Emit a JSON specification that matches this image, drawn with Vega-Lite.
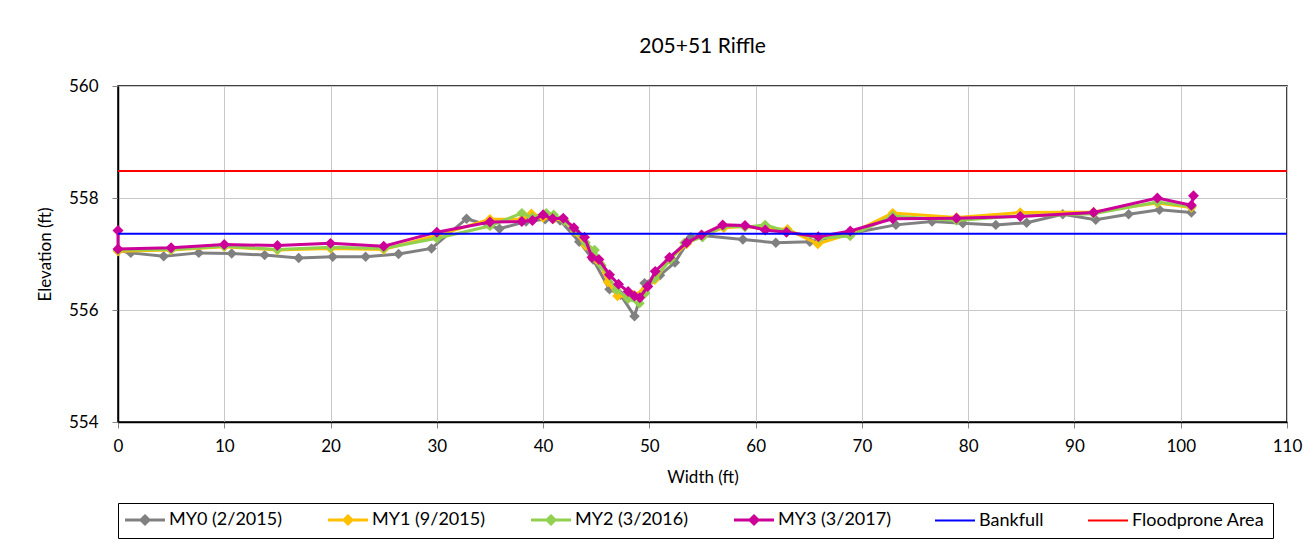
{
  "$schema": "https://vega.github.io/schema/vega-lite/v6.json",
  "width": 1169,
  "height": 336,
  "autosize": "none",
  "padding": {"left": 118, "top": 86, "right": 21, "bottom": 135},
  "background": "white",
  "title": {"text": "205+51 Riffle", "font": "Lato", "fontSize": 21, "fontWeight": "normal", "color": "black", "anchor": "middle", "offset": 20},
  "config": {
    "view": {"stroke": "black", "strokeWidth": 1.5},
    "axis": {
      "labelFont": "Lato", "labelFontSize": 17, "labelColor": "black", "labelFlush": false,
      "titleFont": "Lato", "titleFontSize": 17, "titleFontWeight": "normal", "titleColor": "black",
      "domainColor": "black", "domainWidth": 1.5,
      "tickColor": "#888888", "tickSize": 6,
      "gridColor": "#c8c8c8", "gridWidth": 1
    }
  },
  "datasets": {
    "profile": [
      {"s": "MY0 (2/2015)", "x": 0, "y": 557.06},
      {"s": "MY0 (2/2015)", "x": 1.2, "y": 557.02},
      {"s": "MY0 (2/2015)", "x": 4.3, "y": 556.96},
      {"s": "MY0 (2/2015)", "x": 7.6, "y": 557.02},
      {"s": "MY0 (2/2015)", "x": 10.7, "y": 557.01},
      {"s": "MY0 (2/2015)", "x": 13.8, "y": 556.98},
      {"s": "MY0 (2/2015)", "x": 17.0, "y": 556.93},
      {"s": "MY0 (2/2015)", "x": 20.2, "y": 556.95},
      {"s": "MY0 (2/2015)", "x": 23.3, "y": 556.95},
      {"s": "MY0 (2/2015)", "x": 26.4, "y": 557.0},
      {"s": "MY0 (2/2015)", "x": 29.5, "y": 557.1},
      {"s": "MY0 (2/2015)", "x": 32.8, "y": 557.63},
      {"s": "MY0 (2/2015)", "x": 35.9, "y": 557.45},
      {"s": "MY0 (2/2015)", "x": 38.4, "y": 557.58},
      {"s": "MY0 (2/2015)", "x": 40.2, "y": 557.62},
      {"s": "MY0 (2/2015)", "x": 41.6, "y": 557.6},
      {"s": "MY0 (2/2015)", "x": 43.4, "y": 557.22},
      {"s": "MY0 (2/2015)", "x": 44.7, "y": 556.9},
      {"s": "MY0 (2/2015)", "x": 46.25, "y": 556.37},
      {"s": "MY0 (2/2015)", "x": 47.3, "y": 556.27},
      {"s": "MY0 (2/2015)", "x": 48.6, "y": 555.89},
      {"s": "MY0 (2/2015)", "x": 49.55, "y": 556.48},
      {"s": "MY0 (2/2015)", "x": 51.0, "y": 556.62},
      {"s": "MY0 (2/2015)", "x": 52.4, "y": 556.85},
      {"s": "MY0 (2/2015)", "x": 53.9, "y": 557.3},
      {"s": "MY0 (2/2015)", "x": 55.0, "y": 557.33},
      {"s": "MY0 (2/2015)", "x": 58.8, "y": 557.26},
      {"s": "MY0 (2/2015)", "x": 61.9, "y": 557.2},
      {"s": "MY0 (2/2015)", "x": 65.1, "y": 557.22},
      {"s": "MY0 (2/2015)", "x": 69.0, "y": 557.37},
      {"s": "MY0 (2/2015)", "x": 73.2, "y": 557.52},
      {"s": "MY0 (2/2015)", "x": 76.6, "y": 557.58},
      {"s": "MY0 (2/2015)", "x": 79.5, "y": 557.55},
      {"s": "MY0 (2/2015)", "x": 82.6, "y": 557.52},
      {"s": "MY0 (2/2015)", "x": 85.5, "y": 557.56},
      {"s": "MY0 (2/2015)", "x": 88.9, "y": 557.71},
      {"s": "MY0 (2/2015)", "x": 92.0, "y": 557.61},
      {"s": "MY0 (2/2015)", "x": 95.1, "y": 557.71},
      {"s": "MY0 (2/2015)", "x": 98.0, "y": 557.79},
      {"s": "MY0 (2/2015)", "x": 101.0, "y": 557.74},

      {"s": "MY1 (9/2015)", "x": 0, "y": 557.05},
      {"s": "MY1 (9/2015)", "x": 5.0, "y": 557.07},
      {"s": "MY1 (9/2015)", "x": 10.0, "y": 557.13},
      {"s": "MY1 (9/2015)", "x": 15.0, "y": 557.07},
      {"s": "MY1 (9/2015)", "x": 20.0, "y": 557.1},
      {"s": "MY1 (9/2015)", "x": 25.0, "y": 557.08},
      {"s": "MY1 (9/2015)", "x": 30.0, "y": 557.33},
      {"s": "MY1 (9/2015)", "x": 35.0, "y": 557.62},
      {"s": "MY1 (9/2015)", "x": 38.0, "y": 557.62},
      {"s": "MY1 (9/2015)", "x": 38.9, "y": 557.72},
      {"s": "MY1 (9/2015)", "x": 40.0, "y": 557.65},
      {"s": "MY1 (9/2015)", "x": 41.0, "y": 557.63},
      {"s": "MY1 (9/2015)", "x": 42.0, "y": 557.6},
      {"s": "MY1 (9/2015)", "x": 43.0, "y": 557.4},
      {"s": "MY1 (9/2015)", "x": 44.0, "y": 557.15},
      {"s": "MY1 (9/2015)", "x": 44.8, "y": 556.95},
      {"s": "MY1 (9/2015)", "x": 45.3, "y": 556.85},
      {"s": "MY1 (9/2015)", "x": 46.1, "y": 556.5},
      {"s": "MY1 (9/2015)", "x": 47.0, "y": 556.25},
      {"s": "MY1 (9/2015)", "x": 48.0, "y": 556.24},
      {"s": "MY1 (9/2015)", "x": 48.5, "y": 556.27},
      {"s": "MY1 (9/2015)", "x": 49.5, "y": 556.35},
      {"s": "MY1 (9/2015)", "x": 50.5, "y": 556.54},
      {"s": "MY1 (9/2015)", "x": 51.9, "y": 556.9},
      {"s": "MY1 (9/2015)", "x": 53.5, "y": 557.18},
      {"s": "MY1 (9/2015)", "x": 55.0, "y": 557.33},
      {"s": "MY1 (9/2015)", "x": 57.0, "y": 557.47},
      {"s": "MY1 (9/2015)", "x": 59.0, "y": 557.49},
      {"s": "MY1 (9/2015)", "x": 61.0, "y": 557.45},
      {"s": "MY1 (9/2015)", "x": 63.0, "y": 557.44},
      {"s": "MY1 (9/2015)", "x": 65.85, "y": 557.18},
      {"s": "MY1 (9/2015)", "x": 69.0, "y": 557.37},
      {"s": "MY1 (9/2015)", "x": 72.9, "y": 557.73},
      {"s": "MY1 (9/2015)", "x": 78.9, "y": 557.65},
      {"s": "MY1 (9/2015)", "x": 84.9, "y": 557.74},
      {"s": "MY1 (9/2015)", "x": 91.8, "y": 557.75},
      {"s": "MY1 (9/2015)", "x": 97.8, "y": 557.91},
      {"s": "MY1 (9/2015)", "x": 101.0, "y": 557.83},

      {"s": "MY2 (3/2016)", "x": 0, "y": 557.07},
      {"s": "MY2 (3/2016)", "x": 5.0, "y": 557.08},
      {"s": "MY2 (3/2016)", "x": 10.0, "y": 557.14},
      {"s": "MY2 (3/2016)", "x": 15.0, "y": 557.08},
      {"s": "MY2 (3/2016)", "x": 20.0, "y": 557.12},
      {"s": "MY2 (3/2016)", "x": 25.0, "y": 557.1},
      {"s": "MY2 (3/2016)", "x": 30.0, "y": 557.28},
      {"s": "MY2 (3/2016)", "x": 35.0, "y": 557.5},
      {"s": "MY2 (3/2016)", "x": 38.0, "y": 557.73},
      {"s": "MY2 (3/2016)", "x": 39.0, "y": 557.65},
      {"s": "MY2 (3/2016)", "x": 40.3, "y": 557.73},
      {"s": "MY2 (3/2016)", "x": 41.0, "y": 557.7},
      {"s": "MY2 (3/2016)", "x": 42.0, "y": 557.6},
      {"s": "MY2 (3/2016)", "x": 43.0, "y": 557.42},
      {"s": "MY2 (3/2016)", "x": 44.0, "y": 557.2},
      {"s": "MY2 (3/2016)", "x": 44.85, "y": 557.07},
      {"s": "MY2 (3/2016)", "x": 45.5, "y": 556.8},
      {"s": "MY2 (3/2016)", "x": 46.9, "y": 556.36},
      {"s": "MY2 (3/2016)", "x": 48.0, "y": 556.2},
      {"s": "MY2 (3/2016)", "x": 49.07, "y": 556.12},
      {"s": "MY2 (3/2016)", "x": 49.6, "y": 556.3},
      {"s": "MY2 (3/2016)", "x": 50.5, "y": 556.57},
      {"s": "MY2 (3/2016)", "x": 52.0, "y": 556.9},
      {"s": "MY2 (3/2016)", "x": 53.3, "y": 557.2},
      {"s": "MY2 (3/2016)", "x": 55.0, "y": 557.3},
      {"s": "MY2 (3/2016)", "x": 57.0, "y": 557.5},
      {"s": "MY2 (3/2016)", "x": 59.0, "y": 557.48},
      {"s": "MY2 (3/2016)", "x": 60.9, "y": 557.52},
      {"s": "MY2 (3/2016)", "x": 63.0, "y": 557.4},
      {"s": "MY2 (3/2016)", "x": 66.0, "y": 557.28},
      {"s": "MY2 (3/2016)", "x": 68.9, "y": 557.32},
      {"s": "MY2 (3/2016)", "x": 72.9, "y": 557.68},
      {"s": "MY2 (3/2016)", "x": 78.9, "y": 557.6},
      {"s": "MY2 (3/2016)", "x": 84.9, "y": 557.68},
      {"s": "MY2 (3/2016)", "x": 91.8, "y": 557.72},
      {"s": "MY2 (3/2016)", "x": 97.8, "y": 557.93},
      {"s": "MY2 (3/2016)", "x": 101.0, "y": 557.85},

      {"s": "MY3 (3/2017)", "x": 0, "y": 557.42},
      {"s": "MY3 (3/2017)", "x": 0, "y": 557.09},
      {"s": "MY3 (3/2017)", "x": 5.0, "y": 557.11},
      {"s": "MY3 (3/2017)", "x": 10.0, "y": 557.17},
      {"s": "MY3 (3/2017)", "x": 15.0, "y": 557.15},
      {"s": "MY3 (3/2017)", "x": 20.0, "y": 557.19},
      {"s": "MY3 (3/2017)", "x": 25.0, "y": 557.14},
      {"s": "MY3 (3/2017)", "x": 30.0, "y": 557.39},
      {"s": "MY3 (3/2017)", "x": 35.0, "y": 557.57},
      {"s": "MY3 (3/2017)", "x": 38.0, "y": 557.58},
      {"s": "MY3 (3/2017)", "x": 39.0, "y": 557.6},
      {"s": "MY3 (3/2017)", "x": 40.0, "y": 557.7},
      {"s": "MY3 (3/2017)", "x": 40.9, "y": 557.63},
      {"s": "MY3 (3/2017)", "x": 41.9, "y": 557.64},
      {"s": "MY3 (3/2017)", "x": 42.9, "y": 557.47},
      {"s": "MY3 (3/2017)", "x": 43.9, "y": 557.3},
      {"s": "MY3 (3/2017)", "x": 44.6, "y": 556.94},
      {"s": "MY3 (3/2017)", "x": 45.25, "y": 556.9},
      {"s": "MY3 (3/2017)", "x": 46.25, "y": 556.63},
      {"s": "MY3 (3/2017)", "x": 47.1, "y": 556.46},
      {"s": "MY3 (3/2017)", "x": 48.0, "y": 556.33},
      {"s": "MY3 (3/2017)", "x": 48.6, "y": 556.25},
      {"s": "MY3 (3/2017)", "x": 49.1, "y": 556.22},
      {"s": "MY3 (3/2017)", "x": 49.85, "y": 556.42},
      {"s": "MY3 (3/2017)", "x": 50.55, "y": 556.69},
      {"s": "MY3 (3/2017)", "x": 51.9, "y": 556.94},
      {"s": "MY3 (3/2017)", "x": 53.5, "y": 557.2},
      {"s": "MY3 (3/2017)", "x": 54.9, "y": 557.34},
      {"s": "MY3 (3/2017)", "x": 56.9, "y": 557.52},
      {"s": "MY3 (3/2017)", "x": 59.0, "y": 557.51},
      {"s": "MY3 (3/2017)", "x": 60.9, "y": 557.43},
      {"s": "MY3 (3/2017)", "x": 62.9, "y": 557.39},
      {"s": "MY3 (3/2017)", "x": 65.9, "y": 557.31},
      {"s": "MY3 (3/2017)", "x": 68.9, "y": 557.41},
      {"s": "MY3 (3/2017)", "x": 72.9, "y": 557.63},
      {"s": "MY3 (3/2017)", "x": 78.9, "y": 557.64},
      {"s": "MY3 (3/2017)", "x": 84.9, "y": 557.67},
      {"s": "MY3 (3/2017)", "x": 91.8, "y": 557.74},
      {"s": "MY3 (3/2017)", "x": 97.8, "y": 558.0},
      {"s": "MY3 (3/2017)", "x": 101.0, "y": 557.87},
      {"s": "MY3 (3/2017)", "x": 101.2, "y": 558.04}
    ],
    "levels": [
      {"s": "Bankfull", "y": 557.36},
      {"s": "Floodprone Area", "y": 558.48}
    ]
  },
  "layer": [
    {
      "data": {"name": "profile"},
      "transform": [{"filter": "datum.s === 'MY0 (2/2015)'"}],
      "mark": {"type": "line", "strokeWidth": 3, "point": {"shape": "diamond", "size": 110, "filled": true, "opacity": 1}},
      "encoding": {
        "x": {"field": "x", "type": "quantitative", "scale": {"domain": [0, 110], "nice": false, "zero": false},
              "axis": {"title": "Width (ft)", "values": [0,10,20,30,40,50,60,70,80,90,100,110], "format": "d", "labelPadding": 10, "titlePadding": 15}},
        "y": {"field": "y", "type": "quantitative", "scale": {"domain": [554, 560], "nice": false, "zero": false},
              "axis": {"title": "Elevation (ft)", "values": [554,556,558,560], "format": "d", "labelPadding": 14, "titlePadding": 14}},
        "order": {"value": null},
        "color": {
          "field": "s", "type": "nominal",
          "scale": {
            "domain": ["MY0 (2/2015)", "MY1 (9/2015)", "MY2 (3/2016)", "MY3 (3/2017)", "Bankfull", "Floodprone Area"],
            "range": ["#808080", "#FFC000", "#92D050", "#CC0099", "#0000FF", "#FF0000"]
          },
          "legend": {
            "title": null,
            "orient": "none", "legendX": 0, "legendY": 417,
            "direction": "horizontal", "columns": 6,
            "padding": 8, "strokeColor": "black",
            "columnPadding": 40,
            "symbolSize": 400, "symbolOffset": 10, "labelOffset": 15,
            "symbolType": "M-2,0H2",
            "labelFont": "Lato", "labelFontSize": 18, "labelColor": "black", "labelLimit": 400,
            "encode": {
              "symbols": {
                "update": {
                  "shape": {"signal": "indexof(['Bankfull','Floodprone Area'], datum.value) >= 0 ? 'M-2,0H2' : 'M-2,0H2M0,-0.4L0.4,0L0,0.4L-0.4,0Z'"},
                  "fill": {"scale": "color", "field": "value"},
                  "stroke": {"scale": "color", "field": "value"},
                  "strokeWidth": {"signal": "indexof(['Bankfull','Floodprone Area'], datum.value) >= 0 ? 2 : 3"},
                  "opacity": {"value": 1}
                }
              }
            }
          }
        }
      }
    },
    {
      "data": {"name": "profile"},
      "transform": [{"filter": "datum.s === 'MY1 (9/2015)'"}],
      "mark": {"type": "line", "strokeWidth": 3, "point": {"shape": "diamond", "size": 110, "filled": true, "opacity": 1}},
      "encoding": {
        "x": {"field": "x", "type": "quantitative"},
        "y": {"field": "y", "type": "quantitative"},
        "order": {"value": null},
        "color": {"field": "s", "type": "nominal"}
      }
    },
    {
      "data": {"name": "profile"},
      "transform": [{"filter": "datum.s === 'MY2 (3/2016)'"}],
      "mark": {"type": "line", "strokeWidth": 3, "point": {"shape": "diamond", "size": 110, "filled": true, "opacity": 1}},
      "encoding": {
        "x": {"field": "x", "type": "quantitative"},
        "y": {"field": "y", "type": "quantitative"},
        "order": {"value": null},
        "color": {"field": "s", "type": "nominal"}
      }
    },
    {
      "data": {"name": "profile"},
      "transform": [{"filter": "datum.s === 'MY3 (3/2017)'"}],
      "mark": {"type": "line", "strokeWidth": 3, "point": {"shape": "diamond", "size": 120, "filled": true, "opacity": 1}},
      "encoding": {
        "x": {"field": "x", "type": "quantitative"},
        "y": {"field": "y", "type": "quantitative"},
        "order": {"value": null},
        "color": {"field": "s", "type": "nominal"}
      }
    },
    {
      "data": {"name": "levels"},
      "mark": {"type": "rule", "strokeWidth": 2},
      "encoding": {
        "y": {"field": "y", "type": "quantitative"},
        "color": {"field": "s", "type": "nominal"}
      }
    }
  ]
}
